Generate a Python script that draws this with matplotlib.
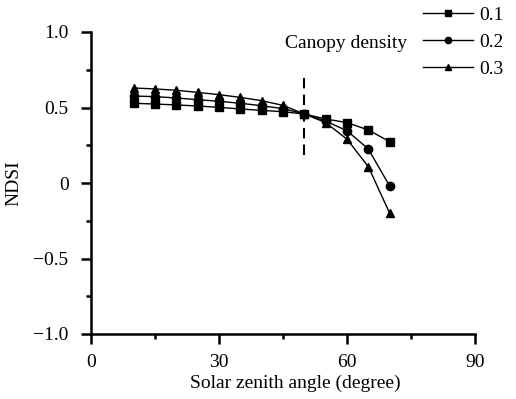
import matplotlib
matplotlib.use("Agg")
import matplotlib.pyplot as plt
from matplotlib.ticker import MultipleLocator

plt.rcParams['font.family'] = ['Liberation Serif', 'DejaVu Serif']

angles = [10, 15, 20, 25, 30, 35, 40, 45, 50, 55, 60, 65, 70]
d01 = [0.528, 0.523, 0.517, 0.510, 0.501, 0.490, 0.481, 0.472, 0.457, 0.424, 0.400, 0.351, 0.274]
d02 = [0.576, 0.572, 0.563, 0.552, 0.541, 0.528, 0.512, 0.492, 0.457, 0.410, 0.346, 0.225, -0.020]
d03 = [0.629, 0.623, 0.614, 0.600, 0.585, 0.567, 0.545, 0.514, 0.457, 0.400, 0.290, 0.108, -0.200]
series_labels = ['0.1', '0.2', '0.3']
markers = ['s', 'o', '^']
xticks = [0, 30, 60, 90]
yticks = [1.0, 0.5, 0.0, -0.5, -1.0]
ytick_labels = ['1.0', '0.5', '0', '\u22120.5', '\u22121.0']
vline_x = 50
vline_range = (0.185, 0.695)

FS = 14

fig = plt.figure(figsize=(5.16, 3.99), dpi=100)
ax = fig.add_axes([91/516, 1-334/399, (475-91)/516, (334-32)/399])

handles = []
for vals, lab, m in zip([d01, d02, d03], series_labels, markers):
    h, = ax.plot(angles, vals, color='black', lw=1.0, marker=m, markersize=6,
                 markerfacecolor='black', markeredgecolor='black', label=lab, clip_on=False)
    handles.append(h)

ax.vlines(vline_x, vline_range[0], vline_range[1], colors='black', linestyles=(0, (5, 3)), lw=1.5)

ax.set_xlim(0, 90)
ax.set_ylim(-1.0, 1.0)
ax.set_xticks(xticks)
ax.xaxis.set_minor_locator(MultipleLocator(15))
ax.set_yticks(yticks)
ax.set_yticklabels(ytick_labels)
ax.yaxis.set_minor_locator(MultipleLocator(0.25))
for s in ['top', 'right']:
    ax.spines[s].set_visible(False)
for s in ['left', 'bottom']:
    ax.spines[s].set_linewidth(1.8)
ax.tick_params(axis='both', which='major', direction='out', length=7.2, width=1.8, labelsize=FS)
ax.tick_params(axis='x', which='major', pad=7.5)
ax.tick_params(axis='y', which='major', pad=9)
ax.tick_params(axis='both', which='minor', direction='out', length=3.5, width=1.8)
ax.set_xlabel('Solar zenith angle (degree)', fontsize=FS, labelpad=2)
ax.xaxis.set_label_coords(0.531, -0.135)
ax.set_ylabel('NDSI', fontsize=FS, labelpad=8)

leg = fig.legend(handles=handles, loc='upper left', bbox_to_anchor=(423/516, 1-6/399),
                 frameon=False, fontsize=FS, handlelength=2.55, handletextpad=0.35,
                 labelspacing=0.5, borderpad=0, borderaxespad=0, markerscale=0.75)
fig.text(407/516, 1-43/399, 'Canopy density', ha='right', va='center', fontsize=FS)

fig.savefig('out.png', dpi=100)
